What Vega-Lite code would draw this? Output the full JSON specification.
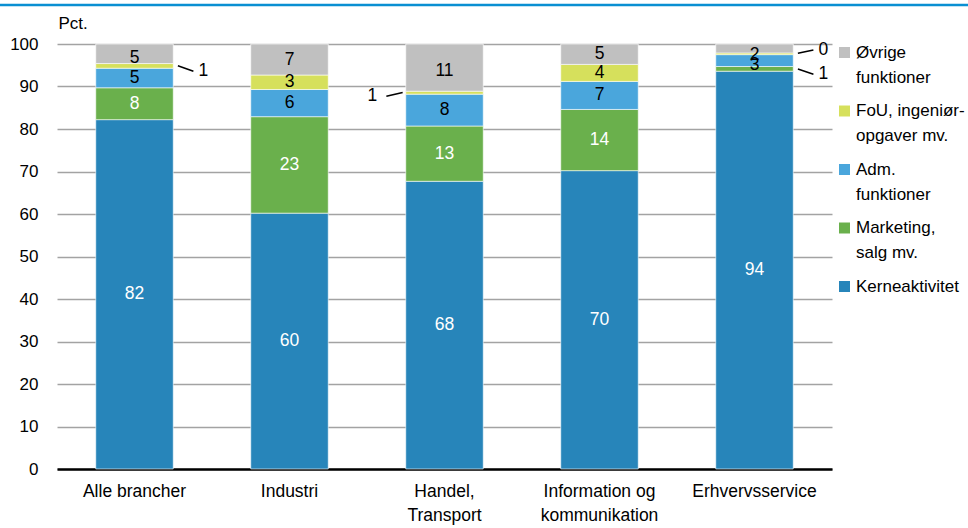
{
  "$schema": "https://vega.github.io/schema/vega-lite/v6.json",
  "width": 775,
  "height": 425,
  "autosize": {"type": "none"},
  "padding": {"left": 57, "top": 44, "right": 136, "bottom": 59},
  "config": {
    "font": "Liberation Sans",
    "view": {"stroke": null},
    "axis": {"labelFont": "Liberation Sans", "titleFont": "Liberation Sans", "labelColor": "#000", "titleColor": "#000"},
    "legend": {"labelFont": "Liberation Sans"},
    "style": {"guide-label": {"lineHeight": 25}}
  },
  "datasets": {
    "andele": [
      {"branche": "Alle brancher", "funktion": "Kerneaktivitet", "nr": 1, "andel": 82.2},
      {"branche": "Alle brancher", "funktion": "Marketing, salg mv.", "nr": 2, "andel": 7.5},
      {"branche": "Alle brancher", "funktion": "Adm. funktioner", "nr": 3, "andel": 4.6},
      {"branche": "Alle brancher", "funktion": "FoU, ingeniøropgaver mv.", "nr": 4, "andel": 1.1},
      {"branche": "Alle brancher", "funktion": "Øvrige funktioner", "nr": 5, "andel": 4.6},
      {"branche": "Industri", "funktion": "Kerneaktivitet", "nr": 1, "andel": 60.2},
      {"branche": "Industri", "funktion": "Marketing, salg mv.", "nr": 2, "andel": 22.7},
      {"branche": "Industri", "funktion": "Adm. funktioner", "nr": 3, "andel": 6.4},
      {"branche": "Industri", "funktion": "FoU, ingeniøropgaver mv.", "nr": 4, "andel": 3.4},
      {"branche": "Industri", "funktion": "Øvrige funktioner", "nr": 5, "andel": 7.3},
      {"branche": "Handel, Transport", "funktion": "Kerneaktivitet", "nr": 1, "andel": 67.7},
      {"branche": "Handel, Transport", "funktion": "Marketing, salg mv.", "nr": 2, "andel": 13.0},
      {"branche": "Handel, Transport", "funktion": "Adm. funktioner", "nr": 3, "andel": 7.5},
      {"branche": "Handel, Transport", "funktion": "FoU, ingeniøropgaver mv.", "nr": 4, "andel": 0.7},
      {"branche": "Handel, Transport", "funktion": "Øvrige funktioner", "nr": 5, "andel": 11.1},
      {"branche": "Information og kommunikation", "funktion": "Kerneaktivitet", "nr": 1, "andel": 70.2},
      {"branche": "Information og kommunikation", "funktion": "Marketing, salg mv.", "nr": 2, "andel": 14.4},
      {"branche": "Information og kommunikation", "funktion": "Adm. funktioner", "nr": 3, "andel": 6.6},
      {"branche": "Information og kommunikation", "funktion": "FoU, ingeniøropgaver mv.", "nr": 4, "andel": 4.0},
      {"branche": "Information og kommunikation", "funktion": "Øvrige funktioner", "nr": 5, "andel": 4.8},
      {"branche": "Erhvervsservice", "funktion": "Kerneaktivitet", "nr": 1, "andel": 93.6},
      {"branche": "Erhvervsservice", "funktion": "Marketing, salg mv.", "nr": 2, "andel": 1.1},
      {"branche": "Erhvervsservice", "funktion": "Adm. funktioner", "nr": 3, "andel": 2.8},
      {"branche": "Erhvervsservice", "funktion": "FoU, ingeniøropgaver mv.", "nr": 4, "andel": 0.4},
      {"branche": "Erhvervsservice", "funktion": "Øvrige funktioner", "nr": 5, "andel": 2.1}
    ],
    "callouts": [
      {"branche": "Alle brancher", "side": "right", "ved_soejle": 94.9, "ved_tekst": 93.6, "tekst": "1"},
      {"branche": "Handel, Transport", "side": "left", "ved_soejle": 88.6, "ved_tekst": 87.7, "tekst": "1"},
      {"branche": "Erhvervsservice", "side": "right", "ved_soejle": 97.8, "ved_tekst": 98.6, "tekst": "0"},
      {"branche": "Erhvervsservice", "side": "right", "ved_soejle": 94.1, "ved_tekst": 92.9, "tekst": "1"}
    ],
    "ramme": [{"branche_fra": "Alle brancher", "branche_til": "Erhvervsservice", "niveau": 109.2}]
  },
  "layer": [
    {
      "data": {"name": "andele"},
      "mark": {"type": "bar", "stroke": "white", "strokeWidth": 0.6},
      "encoding": {
        "x": {
          "field": "branche", "type": "nominal", "sort": null,
          "scale": {
            "domain": ["Alle brancher", "Industri", "Handel, Transport", "Information og kommunikation", "Erhvervsservice"],
            "paddingInner": 0.5, "paddingOuter": 0.25
          },
          "axis": {
            "title": null, "labelAngle": 0, "labelFontSize": 17.5, "labelPadding": 13,
            "labelBaseline": "top", "labelLineHeight": 24, "ticks": false,
            "domainColor": "#000", "domainWidth": 2.5,
            "labelExpr": "datum.label == 'Handel, Transport' ? ['Handel,', 'Transport'] : datum.label == 'Information og kommunikation' ? ['Information og', 'kommunikation'] : datum.label"
          }
        },
        "y": {
          "field": "andel", "type": "quantitative", "stack": "zero",
          "scale": {"domain": [0, 100], "nice": false},
          "axis": {
            "title": "Pct.", "titleAngle": 0, "titleAlign": "left", "titleBaseline": "alphabetic",
            "titleX": 1, "titleY": -16, "titleFontSize": 17, "titleFontWeight": "normal",
            "values": [0, 10, 20, 30, 40, 50, 60, 70, 80, 90, 100],
            "labelFontSize": 17, "labelPadding": 19, "ticks": false, "domain": false,
            "gridColor": "#a3a3a3", "gridWidth": 1.5
          }
        },
        "color": {
          "field": "funktion", "type": "nominal",
          "scale": {
            "domain": ["Øvrige funktioner", "FoU, ingeniøropgaver mv.", "Adm. funktioner", "Marketing, salg mv.", "Kerneaktivitet"],
            "range": ["#c0c0c0", "#d6e05c", "#4aa6dc", "#6ab04c", "#2785ba"]
          },
          "legend": {
            "title": null, "orient": "right", "offset": 4, "padding": 0,
            "symbolType": "square", "symbolSize": 121, "symbolStrokeWidth": 0,
            "labelFontSize": 17, "labelBaseline": "middle", "labelOffset": 3,
            "rowPadding": 15.5, "labelLimit": 200,
            "labelExpr": "datum.label == 'Øvrige funktioner' ? ['Øvrige', 'funktioner'] : datum.label == 'FoU, ingeniøropgaver mv.' ? ['FoU, ingeniør-', 'opgaver mv.'] : datum.label == 'Adm. funktioner' ? ['Adm.', 'funktioner'] : datum.label == 'Marketing, salg mv.' ? ['Marketing,', 'salg mv.'] : datum.label"
          }
        },
        "order": {"field": "nr", "type": "quantitative"}
      }
    },
    {
      "data": {"name": "andele"},
      "transform": [{"filter": "datum.andel >= 1.5"}],
      "mark": {"type": "text", "fontSize": 17.5, "baseline": "middle"},
      "encoding": {
        "x": {"field": "branche", "type": "nominal", "sort": null},
        "y": {"field": "andel", "type": "quantitative", "stack": "zero", "bandPosition": 0.5},
        "detail": {"field": "funktion"},
        "order": {"field": "nr", "type": "quantitative"},
        "text": {"field": "andel", "type": "quantitative", "format": ".0f"},
        "color": {
          "condition": {"test": "datum.funktion == 'Kerneaktivitet' || datum.funktion == 'Marketing, salg mv.'", "value": "white"},
          "value": "black"
        }
      }
    },
    {
      "data": {"name": "callouts"},
      "transform": [{"filter": "datum.side == 'right'"}],
      "mark": {"type": "rule", "color": "black", "strokeWidth": 1.5},
      "encoding": {
        "x": {"field": "branche", "type": "nominal", "sort": null, "bandPosition": 1.06},
        "x2": {"field": "branche", "bandPosition": 1.26},
        "y": {"field": "ved_soejle", "type": "quantitative"},
        "y2": {"field": "ved_tekst"}
      }
    },
    {
      "data": {"name": "callouts"},
      "transform": [{"filter": "datum.side == 'right'"}],
      "mark": {"type": "text", "fontSize": 17.5, "baseline": "middle", "align": "center", "color": "black"},
      "encoding": {
        "x": {"field": "branche", "type": "nominal", "sort": null, "bandPosition": 1.39},
        "y": {"field": "ved_tekst", "type": "quantitative"},
        "text": {"field": "tekst"}
      }
    },
    {
      "data": {"name": "callouts"},
      "transform": [{"filter": "datum.side == 'left'"}],
      "mark": {"type": "rule", "color": "black", "strokeWidth": 1.5},
      "encoding": {
        "x": {"field": "branche", "type": "nominal", "sort": null, "bandPosition": -0.04},
        "x2": {"field": "branche", "bandPosition": -0.25},
        "y": {"field": "ved_soejle", "type": "quantitative"},
        "y2": {"field": "ved_tekst"}
      }
    },
    {
      "data": {"name": "callouts"},
      "transform": [{"filter": "datum.side == 'left'"}],
      "mark": {"type": "text", "fontSize": 17.5, "baseline": "middle", "align": "center", "color": "black"},
      "encoding": {
        "x": {"field": "branche", "type": "nominal", "sort": null, "bandPosition": -0.43},
        "y": {"field": "ved_tekst", "type": "quantitative"},
        "text": {"field": "tekst"}
      }
    },
    {
      "data": {"name": "ramme"},
      "mark": {"type": "rule", "color": "#0a8fd2", "strokeWidth": 2.5, "clip": false},
      "encoding": {
        "x": {"field": "branche_fra", "type": "nominal", "sort": null, "bandPosition": -1.236},
        "x2": {"field": "branche_til", "bandPosition": 3.256},
        "y": {"field": "niveau", "type": "quantitative"}
      }
    }
  ]
}
